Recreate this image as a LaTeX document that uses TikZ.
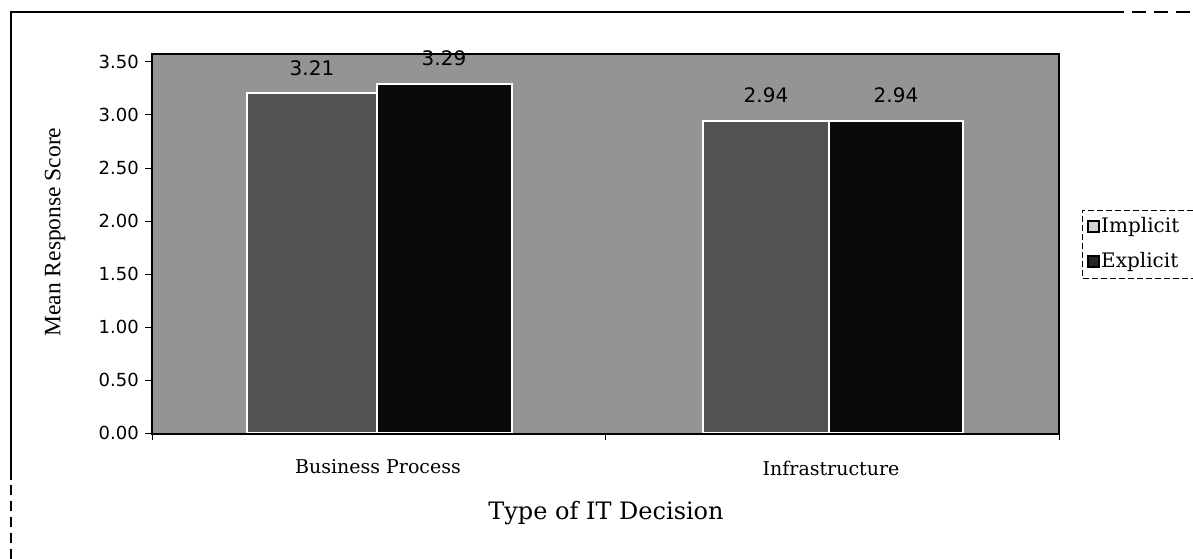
\documentclass[tikz,border=0pt]{standalone}
\usepackage{fontspec}
\setmainfont{Liberation Serif}
\newfontfamily\dvsans{DejaVu Sans}
\newfontfamily\dvserif{DejaVu Serif}
\definecolor{bggray}{gray}{0.58}
\definecolor{implgray}{gray}{0.32}
\definecolor{explgray}{gray}{0.04}
\begin{document}
\begin{tikzpicture}[x=1pt,y=-1pt,
  ticklab/.style={font=\dvsans\fontsize{18}{20}\selectfont, anchor=east, inner sep=0pt},
  vallab/.style={font=\dvsans\fontsize{20}{22}\selectfont, inner sep=0pt},
  catlab/.style={font=\dvserif\fontsize{19}{21}\selectfont, inner sep=0pt},
  leglab/.style={font=\dvserif\fontsize{20}{22}\selectfont, inner sep=0pt, anchor=west},
  barbox/.style={draw=white, line width=2pt},
  tickmark/.style={line width=1pt}]
\useasboundingbox (0,0) rectangle (1193,559);
\fill[white] (0,0) rectangle (1193,559);
% outer chart frame
\draw[line width=1.2pt] (11,480) -- (11,12) -- (1110,12);
\draw[line width=1.2pt, dash pattern=on 10pt off 6pt] (11,559) -- (11,480);
\draw[line width=1.2pt, dash pattern=on 14pt off 8pt] (1110,12) -- (1193,12);
% plot area
\fill[bggray] (152,54) rectangle (1059,434);
% bars
\draw[barbox, fill=implgray] (247,92.7) rectangle (377,433);
\draw[barbox, fill=explgray] (377,84.3) rectangle (512,433);
\draw[barbox, fill=implgray] (703,121.4) rectangle (829,433);
\draw[barbox, fill=explgray] (829,121.4) rectangle (963,433);
\draw[line width=1.8pt] (152,54) rectangle (1059,434);
% y ticks
\foreach \v/\t in {0/0.00,0.5/0.50,1/1.00,1.5/1.50,2/2.00,2.5/2.50,3/3.00,3.5/3.50}{
  \draw[tickmark] (145,{433-106*\v}) -- (152,{433-106*\v});
  \node[ticklab] (yt\t) at (139,{433-106*\v}) {\t};
}
% category ticks
\foreach \x in {152,605.5,1059}{\draw[tickmark] (\x,434) -- (\x,440);}
% value labels
\node[vallab] (v1) at (312,68) {3.21};
\node[vallab] (v2) at (444,58) {3.29};
\node[vallab] (v3) at (766,95) {2.94};
\node[vallab] (v4) at (896,95) {2.94};
% axis labels
\node[font=\fontsize{23.5}{26}\selectfont, rotate=90, inner sep=0pt] (ytitle) at (55,232) {Mean Response Score};
\node[catlab] (c1) at (378,467) {Business Process};
\node[catlab] (c2) at (831,468) {Infrastructure};
\node[font=\dvserif\fontsize{24}{26}\selectfont, inner sep=0pt] (xtitle) at (606,513) {Type of IT Decision};
% legend
\draw[line width=0.8pt, dash pattern=on 6pt off 3pt] (1193,210) -- (1082,210) -- (1082,278) -- (1193,278);
\draw[line width=1.6pt, fill=gray!35] (1088,221) rectangle (1099,232);
\draw[line width=1.6pt, fill=black!85] (1088,256) rectangle (1099,267);
\node[leglab] (l1) at (1101,227) {Implicit};
\node[leglab] (l2) at (1101,262) {Explicit};
\end{tikzpicture}
\end{document}
